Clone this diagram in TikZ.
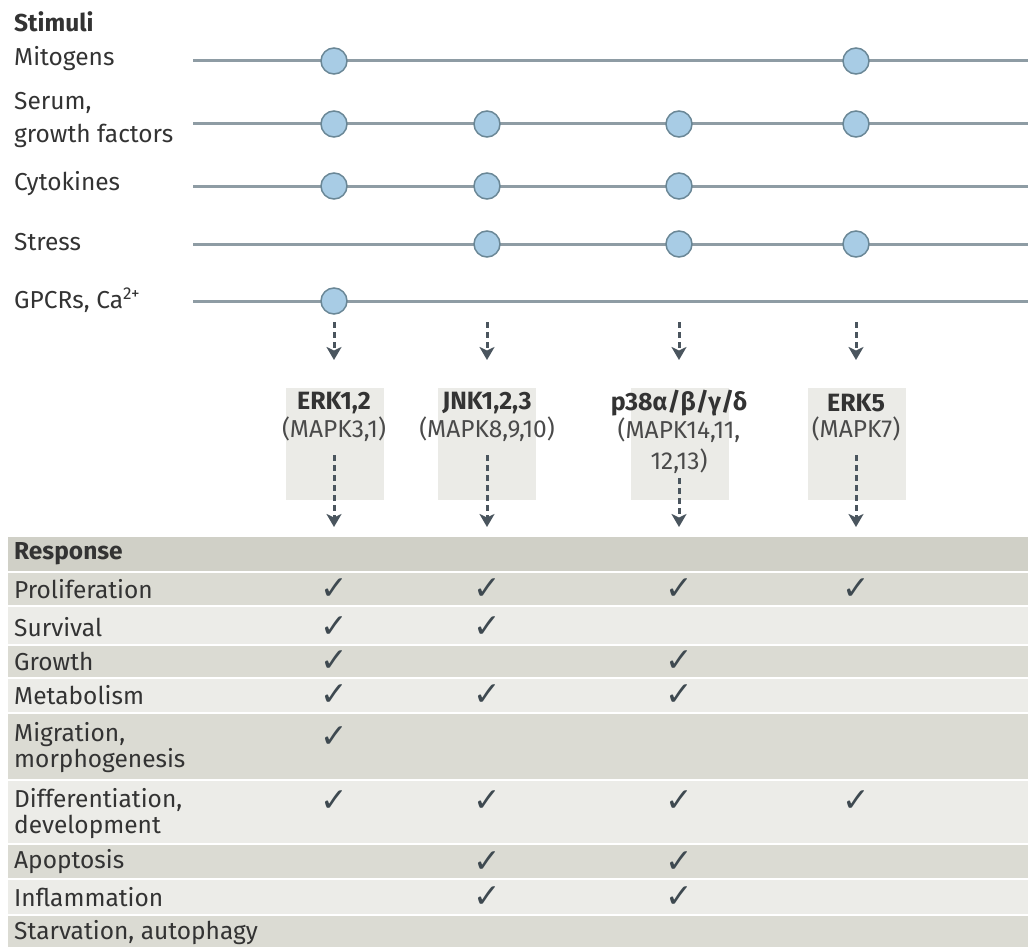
\documentclass[tikz,border=0pt]{standalone}
\usepackage{fontspec}
\setmainfont{Fira Sans}
\newfontfamily\symfont{DejaVu Sans}
\usetikzlibrary{arrows.meta}
\definecolor{txt}{HTML}{333333}
\definecolor{subtxt}{HTML}{4A4A4A}
\definecolor{stimgray}{HTML}{8E9CA4}
\definecolor{dotfill}{HTML}{A8CCE5}
\definecolor{dotdraw}{HTML}{6A8796}
\definecolor{arrowgray}{HTML}{4A555E}
\definecolor{kfill}{HTML}{EBEBE7}
\definecolor{hdrrow}{HTML}{D0D0C7}
\definecolor{darkrow}{HTML}{DBDBD3}
\definecolor{lightrow}{HTML}{ECECE8}
\definecolor{chkcol}{HTML}{3E4950}
\tikzset{
  lbl/.style={anchor=west, text=txt, inner sep=0pt, align=left, font=\fontsize{24.5}{26}\selectfont},
  boldlbl/.style={lbl, font=\fontsize{24.5}{26}\selectfont\bfseries},
  stimline/.style={draw=stimgray, line width=3pt},
  dot/.style={circle, draw=dotdraw, line width=1.5pt, fill=dotfill, minimum size=26pt, inner sep=0pt},
  kbox/.style={fill=kfill, draw=none, minimum width=98pt, minimum height=112pt, inner sep=0pt},
  ktitle/.style={text=txt, inner sep=0pt, font=\fontsize{25}{25}\selectfont\bfseries},
  ksub/.style={text=subtxt, inner sep=0pt, align=center, font=\fontsize{24.5}{31}\selectfont},
  darr/.style={draw=arrowgray, line width=3pt, dash pattern=on 6pt off 4pt, -{Stealth[length=13pt,width=15pt,inset=3.5pt]}},
  rowbox/.style={anchor=north west, draw=none, minimum width=1020pt, inner sep=0pt},
  chk/.style={text=chkcol, inner sep=0pt, font=\symfont\fontsize{33}{33}\selectfont}
}
\begin{document}
\begin{tikzpicture}[x=1pt,y=-1pt]
\useasboundingbox (0,0) rectangle (1028,947);

% ---------- Stimuli ----------
\node[boldlbl] (stimT) at (14,22) {Stimuli};
\node[lbl] (lMit) at (14,59) {Mitogens};
\node[lbl, font=\fontsize{24.5}{33}\selectfont] (lSer) at (14,120) {Serum,\\growth factors};
\node[lbl] (lCyt) at (14,184) {Cytokines};
\node[lbl] (lStr) at (14,242) {Stress};
\node[lbl] (lGpc) at (14,300) {GPCRs, Ca\textsuperscript{2+}};

\foreach \n/\y in {mit/61, ser/124, cyt/186, str/244, gpc/301}{
  \coordinate (\n L) at (193,\y);
  \coordinate (\n R) at (1028,\y);
  \draw[stimline] (\n L) -- (\n R);
}

\node[dot] (mit1) at (334,61) {};
\node[dot] (mit4) at (856,61) {};
\node[dot] (ser1) at (334,124) {};
\node[dot] (ser2) at (487,124) {};
\node[dot] (ser3) at (679,124) {};
\node[dot] (ser4) at (856,124) {};
\node[dot] (cyt1) at (334,186) {};
\node[dot] (cyt2) at (487,186) {};
\node[dot] (cyt3) at (679,186) {};
\node[dot] (str2) at (487,244) {};
\node[dot] (str3) at (679,244) {};
\node[dot] (str4) at (856,244) {};
\node[dot] (gpc1) at (334,301) {};

% ---------- Kinases ----------
\node[kbox] (erkBox) at (335,444) {};
\node[kbox] (jnkBox) at (487,444) {};
\node[kbox] (p38Box) at (680,444) {};
\node[kbox] (erk5Box) at (857,444) {};

\node[ktitle] (erkT) at (334,403) {ERK1,2};
\node[ksub] (erkS) at (334,429) {(MAPK3,1)};
\node[ktitle] (jnkT) at (487,403) {JNK1,2,3};
\node[ksub] (jnkS) at (487,429) {(MAPK8,9,10)};
\node[ktitle] (p38T) at (679,403) {p38α/β/γ/δ};
\node[ksub] (p38S) at (679,446) {(MAPK14,11,\\12,13)};
\node[ktitle] (erk5T) at (856,403) {ERK5};
\node[ksub] (erk5S) at (856,429) {(MAPK7)};

\foreach \n/\x/\s in {erk/334/455, jnk/487/455, p38/679/478, erkf/856/455}{
  \coordinate (\n A1) at (\x,322);
  \coordinate (\n A2) at (\x,360);
  \coordinate (\n B1) at (\x,\s);
  \coordinate (\n B2) at (\x,527);
  \draw[darr] (\n A1) -- (\n A2);
  \draw[darr] (\n B1) -- (\n B2);
}

% ---------- Response table ----------
\node[rowbox, fill=hdrrow, minimum height=34pt] (rResp) at (8,537) {};
\node[rowbox, fill=darkrow, minimum height=32pt] (rProl) at (8,573) {};
\node[rowbox, fill=lightrow, minimum height=37pt] (rSurv) at (8,607) {};
\node[rowbox, fill=darkrow, minimum height=31pt] (rGrow) at (8,646) {};
\node[rowbox, fill=lightrow, minimum height=33pt] (rMeta) at (8,679) {};
\node[rowbox, fill=darkrow, minimum height=65pt] (rMigr) at (8,714) {};
\node[rowbox, fill=lightrow, minimum height=62pt] (rDiff) at (8,781) {};
\node[rowbox, fill=darkrow, minimum height=33pt] (rApop) at (8,845) {};
\node[rowbox, fill=lightrow, minimum height=34pt] (rInfl) at (8,880) {};
\node[rowbox, fill=darkrow, minimum height=31pt] (rStar) at (8,916) {};

\node[boldlbl] (tResp) at (14,554) {Response};
\node[lbl] (tProl) at (14,589) {Proliferation};
\node[lbl] (tSurv) at (14,627) {Survival};
\node[lbl] (tGrow) at (14,661) {Growth};
\node[lbl] (tMeta) at (14,695) {Metabolism};
\node[lbl] (tMigr) at (14,748) {Migration,\\morphogenesis};
\node[lbl] (tDiff) at (14,814) {Differentiation,\\development};
\node[lbl] (tApop) at (14,862) {Apoptosis};
\node[lbl] (tInfl) at (14,897) {Inflammation};
\node[lbl] (tStar) at (14,933) {Starvation, autophagy};

\foreach \x/\y in {334/589, 487/589, 679/589, 856/589,
                   334/627, 487/627,
                   334/661, 679/661,
                   334/695, 487/695, 679/695,
                   334/737,
                   334/801, 487/801, 679/801, 856/801,
                   487/862, 679/862,
                   487/897, 679/897}{
  \node[chk] at (\x,\y) {✓};
}
\end{tikzpicture}
\end{document}
